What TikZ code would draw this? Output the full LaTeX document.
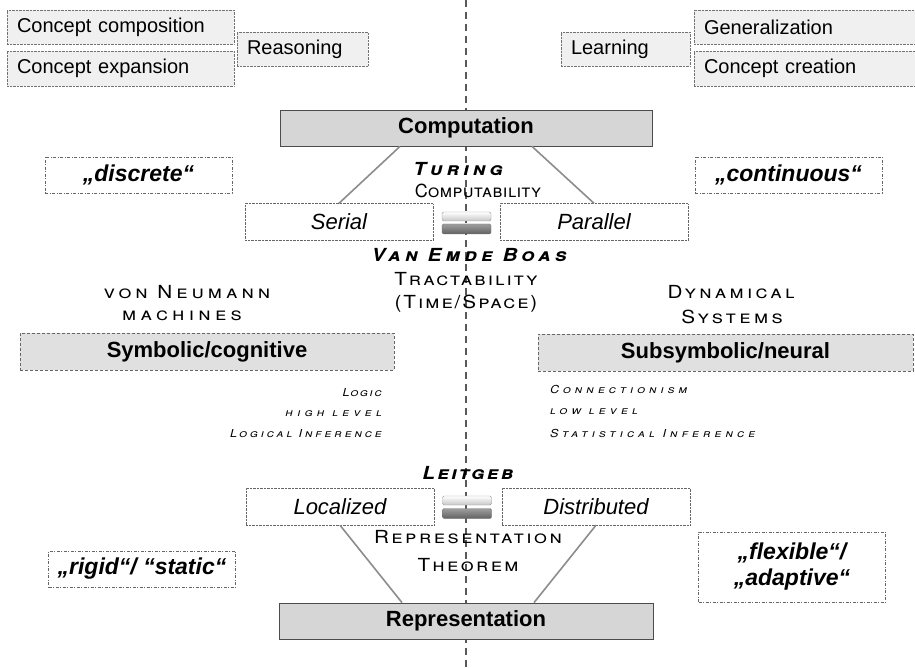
\documentclass[tikz,border=0pt]{standalone}
\usepackage{fontspec}
\setmainfont{Liberation Sans}
\newfontfamily\scf[FakeStretch=1.15]{TeX Gyre Heros}
\newfontfamily\scfn{TeX Gyre Heros}
\begin{document}
\begin{tikzpicture}[x=1pt,y=-1pt,
  topbox/.style={draw=black!55, densely dotted, fill=black!6, minimum height=34pt, inner xsep=10pt, inner ysep=0pt, align=left, font=\fontsize{20}{22}\selectfont},
  mainbox/.style={draw=black!70, line width=0.8pt, fill=black!16, minimum width=372pt, minimum height=36pt, inner sep=0pt, font=\bfseries\fontsize{22}{24}\selectfont},
  subbox/.style={draw=black!60, densely dotted, fill=white, minimum width=188pt, minimum height=37pt, inner sep=0pt, font=\itshape\fontsize{22}{24}\selectfont},
  qbox/.style={draw=black!60, dash pattern=on 3pt off 1.5pt on 1pt off 1.5pt, fill=white, minimum width=187pt, minimum height=36pt, inner sep=0pt, align=center, font=\bfseries\itshape\fontsize{23}{26}\selectfont},
  parbox/.style={draw=black!60, dash pattern=on 3pt off 2pt, fill=black!12, minimum height=37pt, inner sep=0pt, font=\bfseries\fontsize{22}{24}\selectfont},
  conn/.style={draw=black!45, line width=1.6pt},
  vline/.style={draw=black!65, line width=1.3pt, dash pattern=on 7pt off 5pt},
  eqtop/.style={draw=black!40, rounded corners=1.5pt, top color=white, bottom color=black!22, minimum width=49pt, minimum height=9pt, inner sep=0pt},
  eqbot/.style={draw=black!55, rounded corners=1.5pt, top color=black!38, bottom color=black!62, minimum width=49pt, minimum height=10pt, inner sep=0pt},
  scnode/.style={inner sep=0pt, font=\scf\scshape\fontsize{18}{20}\selectfont},
  scsmall/.style={inner sep=0pt, font=\scf\itshape\scshape\fontsize{11}{12}\selectfont}
]
\useasboundingbox (0,0) rectangle (915,668);
% central dashed axis
\coordinate (vtop) at (466,0);
\coordinate (vbot) at (466,668);
\draw[vline] (vtop) -- (vbot);

% top boxes
\node[topbox, text width=207pt] (cc) at (120.5,27) {Concept composition};
\node[topbox, text width=207pt, minimum height=35pt] (ce) at (120.5,68.5) {Concept expansion};
\node[topbox, text width=111pt] (reas) at (302.5,49) {Reasoning};
\node[topbox, text width=109pt] (learn) at (625.5,49) {Learning};
\node[topbox, text width=203pt] (gen) at (805.5,27) {Generalization};
\node[topbox, text width=203pt, minimum height=35pt] (ccr) at (805.5,68.5) {Concept creation};

% computation
\node[mainbox] (comp) at (466,128) {Computation};
\node[subbox] (serial) at (339,222) {Serial};
\node[subbox] (parallel) at (594,222) {Parallel};
\node[eqtop] (eq1a) at (466.5,216.5) {};
\node[eqbot] (eq1b) at (466.5,229) {};
\draw[conn] ([xshift=-66pt]comp.south) -- (serial.north);
\draw[conn] ([xshift=66pt]comp.south) -- (parallel.north);

\node[qbox] (discrete) at (138.5,175) {„discrete“};
\node[qbox] (continuous) at (788.5,175) {„continuous“};

\node[scnode] (turing) at (458,169) {\bfseries\itshape\addfontfeature{LetterSpace=22}Turing};
\node[scnode, font=\scfn\scshape\fontsize{18}{20}\selectfont] (computability) at (478,191) {\addfontfeature{LetterSpace=2.5}Computability};
\node[scnode] (veb) at (469,255) {\bfseries\itshape\addfontfeature{LetterSpace=23}Van Emde Boas};
\node[scnode] (tract) at (466,279) {\addfontfeature{LetterSpace=11}Tractability};
\node[scnode] (timespace) at (466,304) {\addfontfeature{LetterSpace=11}(Time/Space)};

\node[scnode] (neumann) at (187,292) {\addfontfeature{LetterSpace=22}von Neumann};
\node[scnode] (machines) at (182,316) {\addfontfeature{LetterSpace=24}machines};
\node[scnode] (dynamical) at (731,292) {\addfontfeature{LetterSpace=18}Dynamical};
\node[scnode] (systems) at (732,317) {\addfontfeature{LetterSpace=19}Systems};

\node[parbox, minimum width=374pt] (symb) at (207,351.5) {Symbolic/cognitive};
\node[parbox, minimum width=375pt] (subsymb) at (725.5,352.5) {Subsymbolic/neural};

\node[scsmall, anchor=east] (logic) at (382,393) {\addfontfeature{LetterSpace=15}Logic};
\node[scsmall, anchor=east] (high) at (382,414) {\addfontfeature{LetterSpace=39}high level};
\node[scsmall, anchor=east] (loginf) at (382,434) {\addfontfeature{LetterSpace=26}Logical Inference};
\node[scsmall, anchor=west] (conn) at (550,389) {\addfontfeature{LetterSpace=36}Connectionism};
\node[scsmall, anchor=west] (low) at (550,412) {\addfontfeature{LetterSpace=38}low level};
\node[scsmall, anchor=west] (statinf) at (550,433) {\addfontfeature{LetterSpace=37}Statistical Inference};

% representation
\node[scnode] (leitgeb) at (468,473) {\bfseries\itshape\addfontfeature{LetterSpace=13}Leitgeb};
\node[subbox] (local) at (340,506.5) {Localized};
\node[subbox] (distr) at (596,506.5) {Distributed};
\node[eqtop] (eq2a) at (467,500.5) {};
\node[eqbot] (eq2b) at (467,513.5) {};
\node[scnode] (reprth) at (468,537) {\addfontfeature{LetterSpace=14}Representation};
\node[scnode] (theorem) at (468,565) {\addfontfeature{LetterSpace=13}Theorem};

\node[mainbox, minimum width=374pt] (repr) at (466,621) {Representation};
\draw[conn] (local.south) -- ([xshift=-64pt]repr.north);
\draw[conn] (distr.south) -- ([xshift=68pt]repr.north);

\node[qbox] (rigid) at (142,569) {„rigid“/ “static“};
\node[qbox, minimum height=70pt] (flex) at (792,567) {„flexible“/\\„adaptive“};
\end{tikzpicture}
\end{document}
